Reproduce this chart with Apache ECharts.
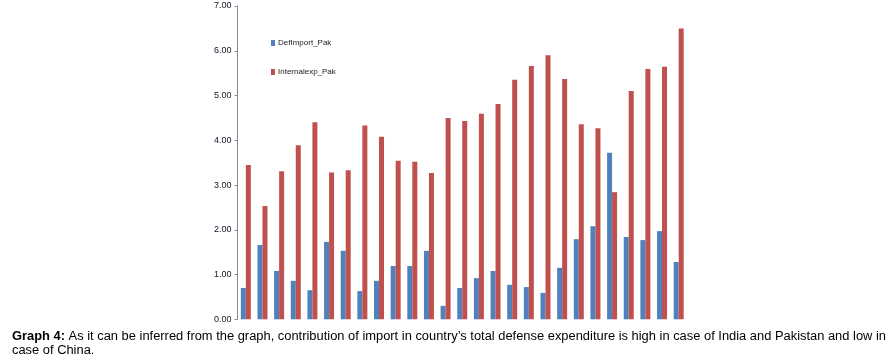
<!DOCTYPE html>
<html>
<head>
<meta charset="utf-8">
<script src="https://cdn.jsdelivr.net/npm/echarts@6/dist/echarts.min.js"></script>
<style>html,body{margin:0;padding:0;background:#fff;}#c{width:895px;height:361px;}</style>
</head>
<body>
<div id="c"></div>
<script>
const categories = ['1','2','3','4','5','6','7','8','9','10','11','12','13','14','15','16','17','18','19','20','21','22','23','24','25','26','27'];
const defImportPak = [0.70,1.66,1.08,0.86,0.65,1.73,1.53,0.63,0.86,1.19,1.19,1.53,0.30,0.70,0.92,1.08,0.77,0.72,0.59,1.15,1.79,2.08,3.72,1.84,1.77,1.97,1.28];
const internalExpPak = [3.45,2.53,3.31,3.89,4.40,3.28,3.33,4.33,4.08,3.54,3.52,3.27,4.50,4.43,4.59,4.81,5.35,5.66,5.90,5.37,4.36,4.27,2.84,5.10,5.59,5.64,6.50];
const yTicks = [0,1,2,3,4,5,6,7];
const seriesNames = ['DefImport_Pak','Internalexp_Pak'];
const captionBold = 'Graph 4:';
const captionLine1 = ' As it can be inferred from the graph, contribution of import in country\u2019s total defense expenditure is high in case of India and Pakistan and low in';
const captionLine2 = 'case of China.';

const chart = echarts.init(document.getElementById('c'), null, {renderer:'canvas'});

const cv = document.createElement('canvas').getContext('2d');
cv.font = 'bold 12px "Liberation Sans", Arial, sans-serif';
const wB = cv.measureText(captionBold).width;
cv.font = '12px "Liberation Sans", Arial, sans-serif';
const wR = cv.measureText(captionLine1).width;
const sx = 874 / (wB + wR);

const option = {
  animation: false,
  backgroundColor: '#ffffff',
  grid: {left: 237.5, right: 208, top: 6, bottom: 41.7, containLabel: false},
  legend: {
    orient: 'vertical',
    left: 271, top: 39, padding: 0,
    itemWidth: 4, itemHeight: 6, itemGap: 21,
    icon: 'rect',
    data: seriesNames,
    textStyle: {fontSize: 8, color: '#1a1a1a', fontFamily: '"Liberation Sans",Arial,sans-serif', padding:[0,0,0,-2]}
  },
  xAxis: {
    type: 'category', data: categories,
    axisLine: {show: false}, axisTick: {show: false}, axisLabel: {show: false}
  },
  yAxis: {
    type: 'value', min: yTicks[0], max: yTicks[yTicks.length-1], interval: 1,
    axisLine: {show: true, lineStyle: {color: '#8a8a8a', width: 1}},
    axisTick: {show: true, length: 3, lineStyle: {color: '#8a8a8a'}},
    splitLine: {show: false},
    axisLabel: {formatter: v => v.toFixed(2), fontSize: 9, color: '#141428', margin: 6,
      fontFamily: '"Liberation Sans",Arial,sans-serif'}
  },
  series: [
    {name: seriesNames[0], type: 'bar', data: defImportPak, barWidth: 5, barGap: '0%',
     itemStyle: {color: '#4F81BD'}},
    {name: seriesNames[1], type: 'bar', data: internalExpPak, barWidth: 5, barGap: '0%',
     itemStyle: {color: '#C0504D'}}
  ],
  graphic: [
    {type: 'text', left: 12, top: 331, scaleX: sx, originX: 0,
     style: {text: '{b|' + captionBold + '}{n|' + captionLine1 + '}',
       rich: {b: {font: 'bold 12px "Liberation Sans", Arial, sans-serif', fill: '#000'},
              n: {font: '12px "Liberation Sans", Arial, sans-serif', fill: '#000'}}}},
    {type: 'text', left: 12, top: 345, scaleX: sx, originX: 0,
     style: {text: captionLine2, font: '12px "Liberation Sans", Arial, sans-serif', fill: '#000'}}
  ]
};
chart.setOption(option);
</script>
</body>
</html>
